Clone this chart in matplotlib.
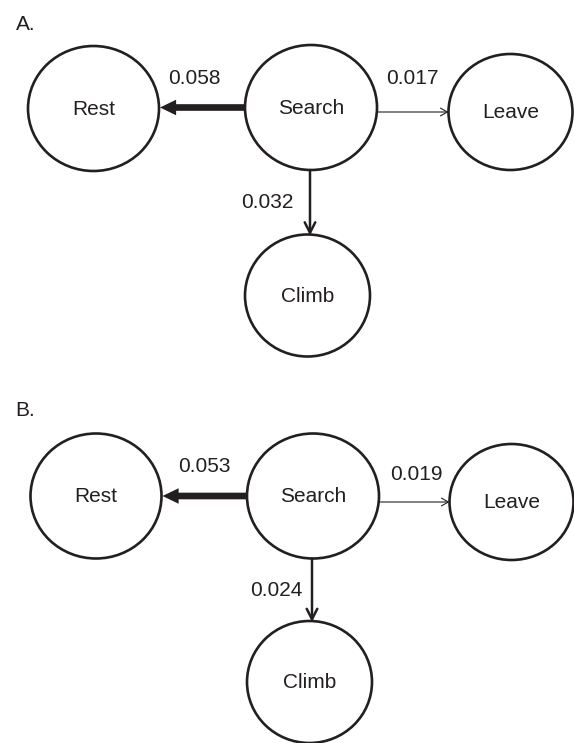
import matplotlib
matplotlib.use("Agg")
import matplotlib.pyplot as plt
from matplotlib.patches import Ellipse, FancyArrowPatch

plt.rcParams['font.family'] = ['Liberation Sans', 'DejaVu Sans']

# data
panels = ["A.", "B."]
states = ["Rest", "Search", "Leave", "Climb"]
targets = ["Rest", "Leave", "Climb"]          # transitions out of Search
rates_A = [0.058, 0.017, 0.032]
rates_B = [0.053, 0.019, 0.024]

# layout (pixel coords, y down)
ink = '#231f20'
radii = {"Rest": (65.5, 62.5), "Search": (66, 62.5), "Leave": (62, 58), "Climb": (62.5, 61)}
centers = [
    {"Rest": (93.5, 108.5), "Search": (311, 107.5), "Leave": (510.5, 112), "Climb": (307.5, 295.5)},
    {"Rest": (96, 496), "Search": (313, 496), "Leave": (511.5, 502), "Climb": (309.5, 682)},
]
panel_lbl_pos = [(25.5, 24), (25.5, 411)]
rate_lbl_pos = [
    {"Rest": (194, 78), "Leave": (412, 79), "Climb": (267, 202)},
    {"Rest": (204, 467), "Leave": (416, 475), "Climb": (276, 590)},
]
arrow_style = {
    "Rest": dict(arrowstyle="simple,head_length=0.58,head_width=0.56,tail_width=0.24", mutation_scale=20, lw=0, color=ink),
    "Leave": dict(arrowstyle="->,head_length=0.5,head_width=0.28", mutation_scale=10, lw=0.8, color=ink),
    "Climb": dict(arrowstyle="->,head_length=0.75,head_width=0.38", mutation_scale=10, lw=1.8, color=ink),
}

fig = plt.figure(figsize=(5.74, 7.43), dpi=100)
ax = fig.add_axes([0, 0, 1, 1])
ax.set_xlim(0, 574)
ax.set_ylim(743, 0)
ax.axis('off')

for p, rates in enumerate([rates_A, rates_B]):
    c = centers[p]
    ax.text(*panel_lbl_pos[p], panels[p], fontsize=15, ha='center', va='center', color=ink)
    for s in states:
        rx, ry = radii[s]
        ax.add_patch(Ellipse(c[s], 2 * rx, 2 * ry, fill=False, lw=1.9, ec=ink))
        ax.text(c[s][0], c[s][1] + 1, s, fontsize=15, ha='center', va='center', color=ink)
    sx, sy = c["Search"]
    srx, sry = radii["Search"]
    for t, r in zip(targets, rates):
        tx, ty = c[t]
        trx, try_ = radii[t]
        if t == "Rest":
            a, b = (sx - srx, sy), (tx + trx + 1, sy)
        elif t == "Leave":
            a, b = (sx + srx, ty), (tx - trx, ty)
        else:
            a, b = (sx - 1, sy + sry), (sx - 1, ty - try_ + 1)
        ax.add_patch(FancyArrowPatch(a, b, shrinkA=0, shrinkB=0, **arrow_style[t]))
        ax.text(*rate_lbl_pos[p][t], "{:.3f}".format(r), fontsize=15, ha='center', va='center', color=ink)

fig.savefig("out.png", dpi=100)
